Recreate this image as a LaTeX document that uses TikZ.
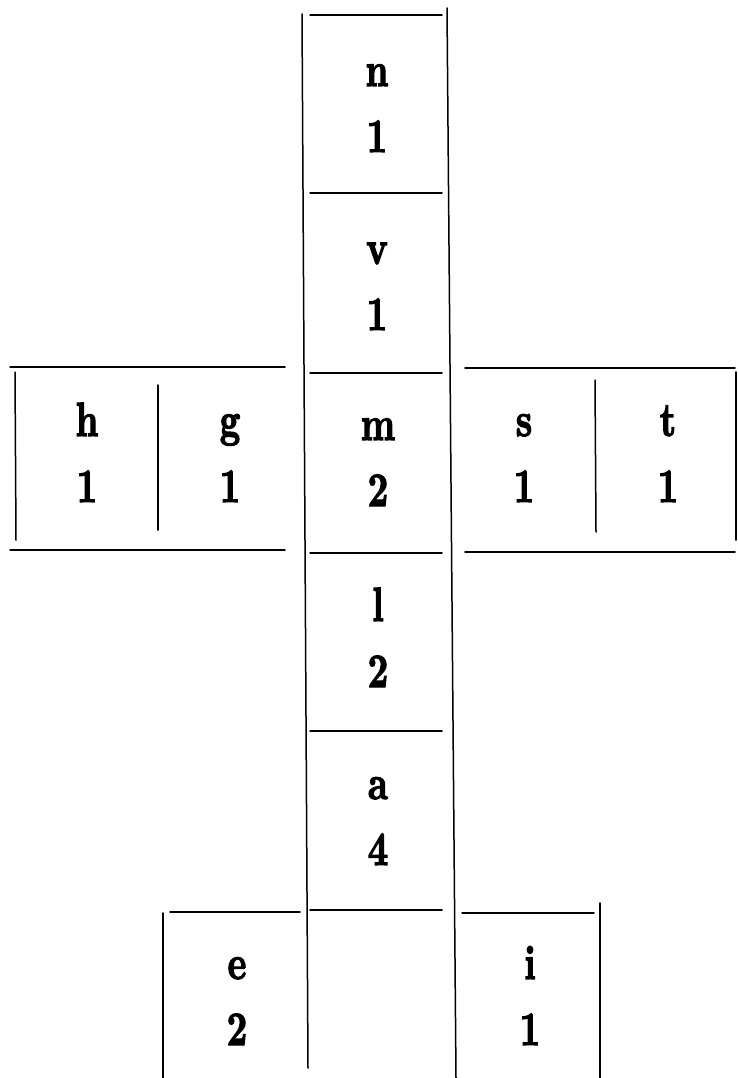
\documentclass[tikz,border=0pt]{standalone}
\usepackage{fontspec}
\newfontfamily\cellfont{lmroman10-bold.otf}[FakeStretch=0.74, FakeBold=2.5]

\tikzset{
    cell/.style={align=center, anchor=base, inner sep=0pt,
        font=\cellfont\fontsize{48}{66}\selectfont},
    rule/.style={line width=1.5pt, line cap=round}
}

\begin{document}
\begin{tikzpicture}[x=1pt, y=-1pt]
    \useasboundingbox (0,0) rectangle (737,1078);

    % middle column
    \draw[rule] (302,14) -- (308,1068);
    \draw[rule] (447,8) -- (456,1078);
    \foreach \y in {15,193,373,553,731,910}
        \draw[rule] (310,\y) -- (442,\y);

    \node[cell] (n) at (377,152) {n\\1};
    \node[cell] (v) at (377,330) {v\\1};
    \node[cell] (m) at (378,506) {m\\2};
    \node[cell] (l) at (378,687) {l\\2};
    \node[cell] (a) at (378,865) {a\\4};

    % left arm
    \draw[rule] (10,367) -- (285,367);
    \draw[rule] (10,550) -- (285,550);
    \draw[rule] (15,372) -- (16,540);
    \draw[rule] (158,385) -- (158,530);

    \node[cell] (h) at (87,502) {h\\1};
    \node[cell] (g) at (230,502) {g\\1};

    % right arm
    \draw[rule] (465,368) -- (735,368);
    \draw[rule] (465,552) -- (735,552);
    \draw[rule] (595,380) -- (596,532);
    \draw[rule] (736,372) -- (736,540);

    \node[cell] (s) at (524,502) {s\\1};
    \node[cell] (t) at (668,502) {t\\1};

    % bottom boxes
    \draw[rule] (163,913) -- (163,1078);
    \draw[rule] (170,912) -- (300,912);
    \draw[rule] (462,913) -- (594,913);
    \draw[rule] (600,903) -- (600,1078);

    \node[cell] (e) at (237,1045) {e\\2};
    \node[cell] (i) at (530,1045) {i\\1};
\end{tikzpicture}
\end{document}
